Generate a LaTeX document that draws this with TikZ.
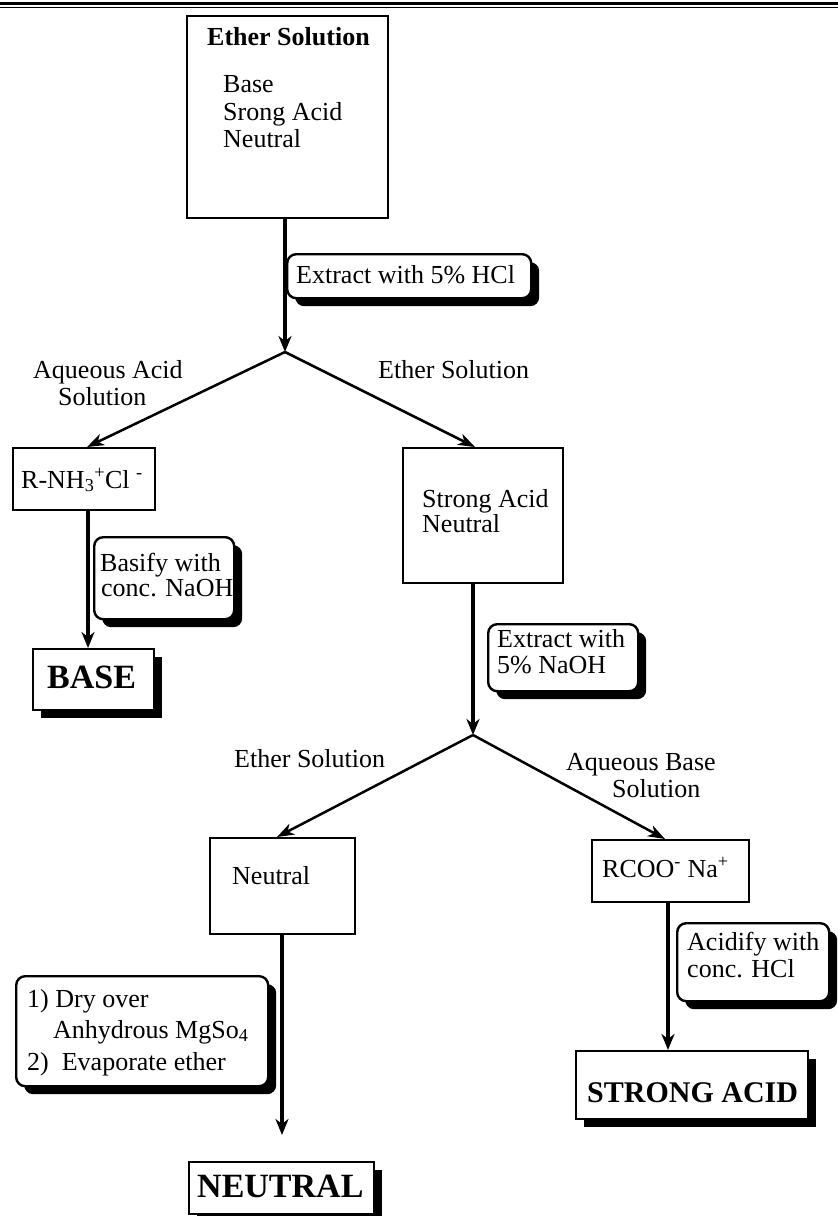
\documentclass[tikz,border=0pt]{standalone}
\usepackage{fontspec}
\setmainfont{Liberation Serif}
\usetikzlibrary{arrows.meta,shadows}
\begin{document}
\begin{tikzpicture}[x=1pt,y=-1pt,
  box/.style={draw, line width=2.4pt, fill=white, inner sep=0pt, anchor=north west},
  finalbox/.style={box, drop shadow={shadow xshift=8pt,shadow yshift=-8pt,fill=black,opacity=1}},
  notebox/.style={box, rounded corners=9pt, drop shadow={shadow xshift=8pt,shadow yshift=-8pt,fill=black,opacity=1}},
  txt/.style={anchor=base west, inner sep=0pt, font=\fontsize{26}{28}\selectfont},
  boldtxt/.style={anchor=base west, inner sep=0pt, font=\bfseries\fontsize{26}{28}\selectfont},
  bigtxt/.style={anchor=base west, inner sep=0pt, font=\bfseries\fontsize{34}{36}\selectfont},
  flow/.style={line width=3.2pt, -{Stealth[length=16pt,width=13pt,inset=5pt]}},
  branch/.style={line width=2.5pt, -{Stealth[length=17pt,width=12pt,inset=5pt]}}
]
\useasboundingbox (0,0) rectangle (838,1216);
% header rules
\draw[line width=2.2pt] (0,3.5) -- (838,3.5);
\draw[line width=1.3pt] (0,7.4) -- (838,7.4);

% main boxes
\node[box, minimum width=201pt, minimum height=202pt] (top) at (186,15) {};
\node[box, minimum width=142pt, minimum height=62pt] (rnh) at (12,447) {};
\node[box, minimum width=160pt, minimum height=135pt] (sa) at (402,447) {};
\node[box, minimum width=145pt, minimum height=96pt] (neu) at (209,837) {};
\node[box, minimum width=157pt, minimum height=62pt] (rcoo) at (591,839) {};
\node[finalbox, minimum width=121pt, minimum height=61pt] (base) at (32,648) {};
\node[finalbox, minimum width=185pt, minimum height=52pt] (neutral) at (188,1161) {};
\node[finalbox, minimum width=232pt, minimum height=68pt] (strong) at (575,1050) {};

% junctions
\coordinate (j1) at (285,352);
\coordinate (j2) at (473,735);
\coordinate (e1) at (282,1135);

% connectors
\draw[flow] (top.south -| j1) -- (j1);
\draw[branch] (j1) -- (87,446 |- rnh.north);
\draw[branch] (j1) -- (475,447 |- sa.north);
\draw[flow] (rnh.south -| 88,0) -- (base.north -| 88,0);
\draw[flow] (sa.south -| j2) -- (j2);
\draw[branch] (j2) -- (277,0 |- neu.north);
\draw[branch] (j2) -- (665,0 |- rcoo.north);
\draw[flow] (neu.south -| e1) -- (e1);
\draw[flow] (rcoo.south -| 668,0) -- (strong.north -| 668,0);

% note boxes
\node[notebox, minimum width=244pt, minimum height=44pt] (n1) at (286,253) {};
\node[notebox, minimum width=140pt, minimum height=82pt] (n2) at (93,536) {};
\node[notebox, minimum width=150pt, minimum height=67pt] (n3) at (487,623) {};
\node[notebox, minimum width=152pt, minimum height=78pt] (n4) at (676,922) {};
\node[notebox, minimum width=252pt, minimum height=110pt] (n5) at (15,975) {};

% texts
\node[boldtxt] (t0) at (207,45) {Ether Solution};
\node[txt] (t1) at (223,92) {Base};
\node[txt] (t2) at (223,120) {Srong Acid};
\node[txt] (t3) at (223,147) {Neutral};
\node[txt] (t4) at (296,283) {Extract with 5\% HCl};
\node[txt] (t5) at (33,378) {Aqueous Acid};
\node[txt] (t6) at (58,405) {Solution};
\node[txt] (t7) at (378,378) {Ether Solution};
\node[txt] (t8) at (21,488) {R-NH\textsubscript{3}\textsuperscript{+}Cl \textsuperscript{-}};
\node[txt] (t9) at (100,571) {Basify with};
\node[txt] (t10) at (101,596) {conc. NaOH};
\node[bigtxt] (t11) at (47,688) {BASE};
\node[txt] (t12) at (422,507) {Strong Acid};
\node[txt] (t13) at (422,532) {Neutral};
\node[txt] (t14) at (497,647) {Extract with};
\node[txt] (t15) at (497,673) {5\% NaOH};
\node[txt] (t16) at (234,767) {Ether Solution};
\node[txt] (t17) at (566,770) {Aqueous Base};
\node[txt] (t18) at (612,797) {Solution};
\node[txt] (t19) at (232,884) {Neutral};
\node[txt] (t20) at (602,877) {RCOO\textsuperscript{-} Na\textsuperscript{+}};
\node[txt] (t21) at (687,950) {Acidify with};
\node[txt] (t22) at (687,977) {conc. HCl};
\node[txt] (t23) at (27,1007) {1) Dry over};
\node[txt] (t24) at (53,1038) {Anhydrous MgSo\textsubscript{4}};
\node[txt] (t25) at (27,1070) {2)\ \ Evaporate ether};
\node[bigtxt] (t26) at (197,1197) {NEUTRAL};
\node[bigtxt, font=\bfseries\fontsize{30}{32}\selectfont] (t27) at (587,1102) {STRONG ACID};
\end{tikzpicture}
\end{document}
